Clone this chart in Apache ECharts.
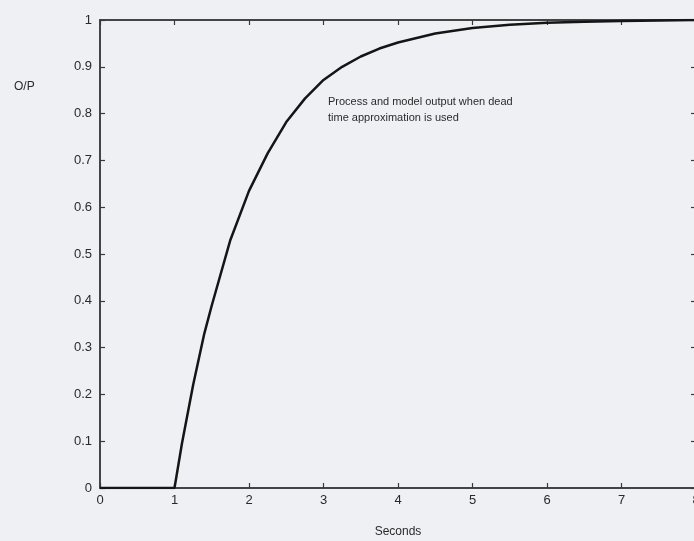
<!DOCTYPE html>
<html><head><meta charset="utf-8">
<script src="https://cdn.jsdelivr.net/npm/echarts@6/dist/echarts.min.js"></script>
<style>html,body{margin:0;padding:0;background:#eff0f4;}#c{width:694px;height:541px;}</style>
</head><body><div id="c"></div>
<script>
var timeSec = [0, 0.5, 1, 1.1, 1.25, 1.4, 1.5, 1.75, 2, 2.25, 2.5, 2.75, 3, 3.25, 3.5, 3.75, 4, 4.5, 5, 5.5, 6, 6.5, 7, 7.5, 8];
var output  = [0, 0, 0, 0.095, 0.22, 0.33, 0.39, 0.53, 0.635, 0.715, 0.782, 0.832, 0.872, 0.9, 0.922, 0.939, 0.952, 0.971, 0.983, 0.99, 0.994, 0.996, 0.998, 0.999, 1.0];
var xTicks = [0, 1, 2, 3, 4, 5, 6, 7, 8];
var yTicks = [0, 0.1, 0.2, 0.3, 0.4, 0.5, 0.6, 0.7, 0.8, 0.9, 1];
var annotation = ['Process and model output when dead', 'time approximation is used'];

var chart = echarts.init(document.getElementById('c'));
var axisLine = {show: true, onZero: false, lineStyle: {color: '#3a3a3a', width: 1.5}};
var ticks = {show: true, inside: true, length: 5, lineStyle: {color: '#3a3a3a', width: 1.2}};
var lbl = {color: '#2a2a2a', fontFamily: 'Liberation Sans, Arial', fontSize: 13};
chart.setOption({
  backgroundColor: '#eff0f4',
  animation: false,
  grid: {left: 100, top: 20, width: 596, height: 468, containLabel: false, outerBoundsMode: 'none',
         show: true, borderColor: '#3a3a3a', borderWidth: 1.5, backgroundColor: 'transparent'},
  xAxis: [
    {type: 'value', min: 0, max: 8, interval: 1, position: 'bottom', axisLine: axisLine, axisTick: ticks,
     axisLabel: Object.assign({margin: 6, showMaxLabel: true, hideOverlap: false}, lbl), splitLine: {show: false},
     name: 'Seconds', nameLocation: 'middle', nameGap: 38, nameTextStyle: {color: '#2a2a2a', fontFamily: 'Liberation Sans, Arial', fontSize: 12}},
    {type: 'value', min: 0, max: 8, interval: 1, position: 'top', axisLine: axisLine, axisTick: ticks,
     axisLabel: {show: false}, splitLine: {show: false}}
  ],
  yAxis: [
    {type: 'value', min: 0, max: 1, interval: 0.1, position: 'left', axisLine: axisLine, axisTick: ticks,
     axisLabel: Object.assign({margin: 8, formatter: function(v){ return +v.toFixed(1) + ''; }}, lbl), splitLine: {show: false}},
    {type: 'value', min: 0, max: 1, interval: 0.1, position: 'right', axisLine: axisLine, axisTick: ticks,
     axisLabel: {show: false}, splitLine: {show: false}}
  ],
  graphic: [
    {type: 'text', left: 14, top: 81, style: {text: 'O/P', fill: '#2a2a2a', font: '12px Liberation Sans, Arial'}},
    {type: 'text', left: 328, top: 94, style: {text: annotation.join('\n'), fill: '#2a2a2a', font: '11px Liberation Sans, Arial', lineHeight: 16}}
  ],
  series: [{
    type: 'line', xAxisIndex: 0, yAxisIndex: 0, showSymbol: false, smooth: false,
    lineStyle: {color: '#151515', width: 2.5},
    data: timeSec.map(function(t, i){ return [t, output[i]]; })
  }, {
    type: 'line', xAxisIndex: 1, yAxisIndex: 1, showSymbol: false, silent: true, data: []
  }]
});
</script></body></html>
